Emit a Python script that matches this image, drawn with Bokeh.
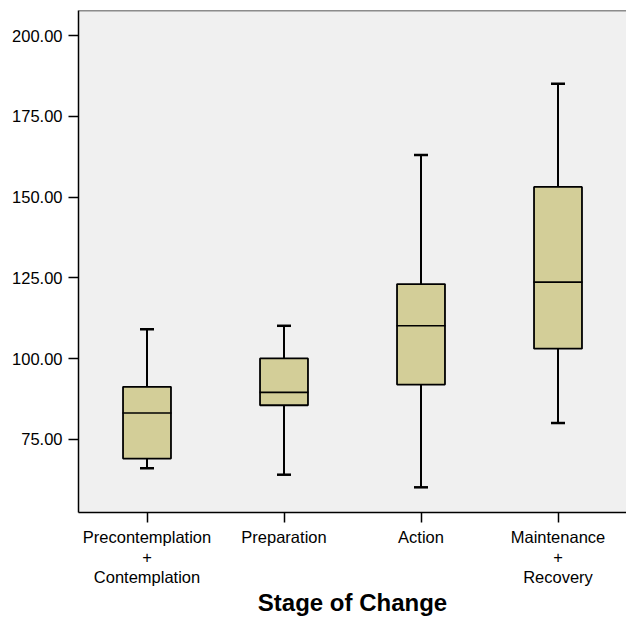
from bokeh.plotting import figure
from bokeh.models import (ColumnDataSource, FactorRange, Range1d, FixedTicker,
                          NumeralTickFormatter, Whisker, TeeHead, Span)
from bokeh.embed import file_html
from bokeh.resources import INLINE

categories = ["Precontemplation\n+\nContemplation", "Preparation", "Action",
              "Maintenance\n+\nRecovery"]
lower = [66.1, 64.1, 60.2, 80.1]
q1 = [69.1, 85.6, 92.0, 103.1]
median = [83.2, 89.6, 110.2, 123.7]
q3 = [91.3, 100.1, 123.1, 153.2]
upper = [109.1, 110.2, 163.1, 185.1]
y_ticks = [75, 100, 125, 150, 175, 200]

src = ColumnDataSource(dict(x=categories, lower=lower, q1=q1, median=median,
                            q3=q3, upper=upper))

FONT = "Liberation Sans"
BOX_FILL = "#D3CE98"
Y_END = 207.8

p = figure(width=626, height=618, x_range=FactorRange(*categories),
           y_range=Range1d(52.4, Y_END), output_backend="svg",
           toolbar_location=None, min_border_left=78, min_border_right=0,
           min_border_top=10, min_border_bottom=0)

p.background_fill_color = "#F0F0F0"
p.border_fill_color = "white"
p.outline_line_color = None
p.xgrid.visible = False
p.ygrid.visible = False

# top frame line
p.add_layout(Span(location=Y_END, dimension="width", line_color="#222222",
                  line_width=1.5))

# whiskers
w = Whisker(base="x", upper="upper", lower="lower", source=src,
            line_color="black", line_width=2,
            upper_head=TeeHead(size=14, line_width=2.5, line_color="black"),
            lower_head=TeeHead(size=14, line_width=2.5, line_color="black"),
            level="underlay")
p.add_layout(w)

# boxes
p.vbar(x="x", width=0.35, bottom="q1", top="q3", source=src,
       fill_color=BOX_FILL, line_color="black", line_width=1.8)
# medians
p.scatter(x="x", y="median", marker="dash", size=49, source=src,
          line_color="black", line_width=1.6)

# axes
p.yaxis.ticker = FixedTicker(ticks=y_ticks)
p.yaxis.formatter = NumeralTickFormatter(format="0.00")
for ax in (p.xaxis[0], p.yaxis[0]):
    ax.axis_line_color = "black"
    ax.axis_line_width = 1.5
    ax.major_tick_line_color = "black"
    ax.major_tick_line_width = 1.5
    ax.major_tick_out = 10
    ax.major_tick_in = 0
    ax.minor_tick_line_color = None
    ax.major_label_text_font = FONT
    ax.major_label_text_font_size = "16.5px"
    ax.major_label_text_color = "black"

p.yaxis.major_label_standoff = 6
p.xaxis.major_label_standoff = 5
p.xaxis.major_label_text_line_height = 1.12
p.xaxis.axis_label = "Stage of Change"
p.xaxis.axis_label_text_font = FONT
p.xaxis.axis_label_text_font_style = "bold"
p.xaxis.axis_label_text_font_size = "24px"
p.xaxis.axis_label_text_line_height = 1.0
p.xaxis.axis_label_text_color = "black"
p.xaxis.axis_label_standoff = 0

open("out.html", "w").write(file_html(p, INLINE))
